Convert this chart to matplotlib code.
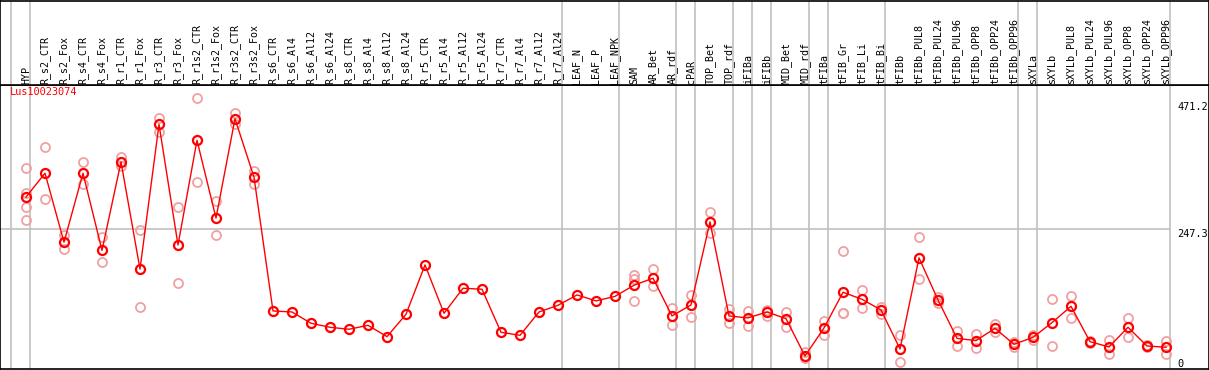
import matplotlib
matplotlib.use("Agg")
import matplotlib.pyplot as plt
import matplotlib.transforms as mtransforms

# sample names (one column each)
samples = ["HYP", "R_s2_CTR", "R_s2_Fox", "R_s4_CTR", "R_s4_Fox", "R_r1_CTR", "R_r1_Fox",
           "R_r3_CTR", "R_r3_Fox", "R_r1s2_CTR", "R_r1s2_Fox", "R_r3s2_CTR", "R_r3s2_Fox",
           "R_s6_CTR", "R_s6_Al4", "R_s6_Al12", "R_s6_Al24", "R_s8_CTR", "R_s8_Al4",
           "R_s8_Al12", "R_s8_Al24", "R_r5_CTR", "R_r5_Al4", "R_r5_Al12", "R_r5_Al24",
           "R_r7_CTR", "R_r7_Al4", "R_r7_Al12", "R_r7_Al24", "LEAF_N", "LEAF_P", "LEAF_NPK",
           "SAM", "AR_Bet", "AR_rdf", "cPAR", "TOP_Bet", "TOP_rdf", "iFIBa", "iFIBb",
           "MID_Bet", "MID_rdf", "tFIBa", "tFIB_Gr", "tFIB_Li", "tFIB_Bi", "tFIBb",
           "tFIBb_PUL8", "tFIBb_PUL24", "tFIBb_PUL96", "tFIBb_OPP8", "tFIBb_OPP24",
           "tFIBb_OPP96", "sXYLa", "sXYLb", "sXYLb_PUL8", "sXYLb_PUL24", "sXYLb_PUL96",
           "sXYLb_OPP8", "sXYLb_OPP24", "sXYLb_OPP96"]

# mean expression per sample
means = [303, 345, 223.5, 345, 209, 365, 176, 431, 218.5, 403, 266, 441, 338,
         102.3, 100.5, 80.6, 73.5, 70, 77, 57, 96.4, 183.4, 98.2, 142.3, 140.5,
         64.7, 59.4, 100.5, 112.3, 130.5, 120, 128,
         147.6, 160, 93.5, 112.9, 259.3, 93.5, 90, 100.5, 88.7, 22.9,
         72.3, 135.2, 122.9, 104, 35.3, 195.8, 121.7, 54, 50, 71.7, 43.5,
         55.8, 81.7, 110.5, 48.2, 38.8, 73.5, 40.6, 38.3]

# individual replicates
replicates = [[354, 311, 285, 263], [391, 299], [236, 211], [364.5, 325.7], [233, 188],
              [374, 358], [244.6, 108.8], [442, 418.5], [285, 151], [477, 329],
              [296, 235.8], [451, 431.5], [349, 325.7],
              [], [], [], [], [], [], [], [], [], [], [], [], [], [], [], [], [], [], [],
              [165.8, 158.7, 120], [176.4, 145.9], [107, 77], [130.5, 92], [277, 240.4],
              [106.3, 80.6], [102.3, 75.3], [104.6, 94], [101, 74.6], [30.5, 18.8],
              [85.2, 60.5], [207.6, 99.3, 98.5], [138.8, 107], [109.9, 97], [59.4, 11.8],
              [232.8, 158.2], [127, 115.9], [67.6, 41], [61.1, 36.5], [79.4, 64.7],
              [48.2, 38.8], [60.5, 51], [122.9, 41], [128.7, 90.5], [50, 46.5],
              [51, 25.9], [89.4, 57], [42.5, 38.7], [48.8, 27]]

# last sample index of each group (-1 = left edge)
group_ends = [-1, 0, 28, 31, 34, 35, 37, 38, 39, 41, 42, 45, 52, 53, 60]

gene = "Lus10023074"
ytick_vals = [471.2, 247.3]

W, H = 1209, 370
fig = plt.figure(figsize=(W / 100, H / 100), dpi=100)
xlim = (-26 / 19, (W - 26) / 19)
ax = fig.add_axes([0, 1 / H, 1, 284 / H])
hdr = fig.add_axes([0, 285 / H, 1, 85 / H - 0.5 / H], sharex=ax)

mono = "DejaVu Sans Mono"
grey = "#c0c0c0"
x = list(range(len(samples)))

for a in (ax, hdr):
    a.set_xlim(*xlim)
    a.tick_params(left=False, bottom=False, labelleft=False, labelbottom=False)
    for s in a.spines.values():
        s.set_color("black")
        s.set_linewidth(1.2)
    for g in group_ends:
        a.axvline(g + 0.23, color=grey, lw=1.2, zorder=0)

hdr.set_ylim(0, 1)
for i, name in enumerate(samples):
    hdr.text(i, 0.01, name, rotation=90, ha="center", va="bottom",
             fontsize=7.2, family=mono, color="black")

ax.set_ylim(0, 284 / 0.5675)
ax.hlines(247.3, xlim[0], 60.23, color=grey, lw=1.2, zorder=0)

rx, ry = [], []
for i, reps in enumerate(replicates):
    rx += [i] * len(reps)
    ry += reps
ax.plot(rx, ry, "o", ms=6.5, mfc="none", mec="#f0a0a0", mew=1.3, zorder=2)
ax.plot(x, means, "-", color="red", lw=1, zorder=3)
ax.plot(x, means, "o", ms=6.5, mfc="none", mec="red", mew=1.6, zorder=4)

ax.text(10 / W, 1 - 7 / 284, gene, transform=ax.transAxes, color="red",
        fontsize=7.4, family=mono, ha="left", va="center")

trans = mtransforms.blended_transform_factory(ax.transAxes, ax.transData)
for v in ytick_vals:
    ax.text(1177 / W, v, f"{v:g}", transform=trans, fontsize=7.4, family=mono,
            ha="left", va="top")
ax.text(1177 / W, 8, "0", transform=trans, fontsize=7.4, family=mono,
        ha="left", va="center")

fig.savefig("out.png", dpi=100)
